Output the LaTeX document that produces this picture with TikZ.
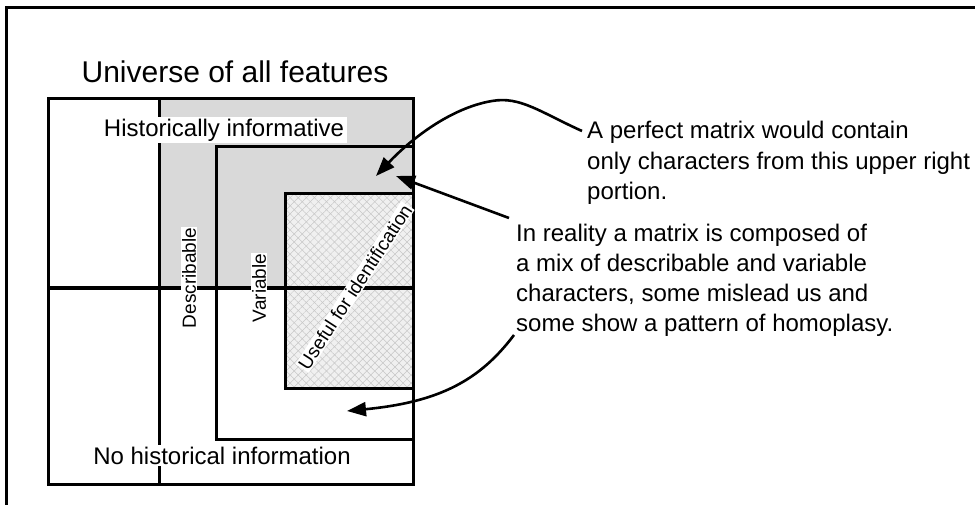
\documentclass[tikz,border=0pt]{standalone}
\usepackage{fontspec}
\setmainfont{Liberation Sans}
\usepackage{xcolor}
\usetikzlibrary{arrows.meta,patterns.meta}

\begin{document}
\begin{tikzpicture}[x=1pt,y=-1pt,
    box/.style={line width=3pt},
    lbl/.style={fill=white,inner xsep=3pt,inner ysep=2pt,font=\fontsize{24}{30}\selectfont},
    sidelbl/.style={fill=white,inner sep=1pt,font=\fontsize{19}{22}\selectfont},
    callout/.style={line width=2.6pt,-{Triangle[length=19pt,width=14pt]}}]
    \useasboundingbox (0,0) rectangle (975,504);
    \draw[line width=3pt] (6.5,510) -- (6.5,7.5) -- (985,7.5);

    % shaded regions
    \fill[black!15] (159,98) rectangle (413,288);
    \fill[black!6] (285,193) rectangle (413,388);
    \fill[pattern={Lines[angle=45,distance=5.7pt,line width=0.5pt]},pattern color=black!22] (285,193) rectangle (413,388);
    \fill[pattern={Lines[angle=-45,distance=5.7pt,line width=0.5pt]},pattern color=black!22] (285,193) rectangle (413,388);

    % boxes and dividers
    \draw[box] (48,98) rectangle (413,484);
    \draw[box] (159,98) -- (159,484);
    \draw[line width=4pt] (48,288) -- (413,288);
    \draw[box] (413,146) -- (216,146) -- (216,439) -- (413,439);
    \draw[box] (413,193) -- (285,193) -- (285,388) -- (413,388);

    % labels
    \node[anchor=base,font=\fontsize{30}{36}\selectfont] (universe) at (235,82) {Universe of all features};
    \node[lbl,anchor=base] (histinfo) at (224,136) {Historically informative};
    \node[lbl,anchor=base] (nohist) at (222,464) {No historical information};
    \node[sidelbl,rotate=90] (describ) at (189,278) {Describable};
    \node[sidelbl,rotate=90] (variab) at (259,288) {Variable};
    \node[sidelbl,rotate=57] (useful) at (355,287) {Useful for identification};

    % notes
    \node[anchor=north west,align=left,inner sep=0pt,font=\fontsize{24}{30.5}\selectfont] (perfect) at (587,121)
        {A perfect matrix would contain\\only characters from this upper right\\portion.};
    \node[anchor=north west,align=left,inner sep=0pt,font=\fontsize{24}{30}\selectfont] (reality) at (516,224)
        {In reality a matrix is composed of\\a mix of describable and variable\\characters, some mislead us and\\some show a pattern of homoplasy.};

    % arrows
    \coordinate (perfstart) at (582,131);
    \coordinate (perftip) at (376,176);
    \coordinate (realstart) at (509,218);
    \coordinate (realtip) at (396,176);
    \coordinate (homostart) at (514,335);
    \coordinate (homotip) at (347,411);
    \draw[callout] (perfstart) .. controls (540,112) and (520,96) .. (492,101) .. controls (450,108) and (410,140) .. (perftip);
    \draw[callout] (realstart) -- (realtip);
    \draw[callout] (homostart) .. controls (480,380) and (440,402) .. (homotip);
\end{tikzpicture}
\end{document}
